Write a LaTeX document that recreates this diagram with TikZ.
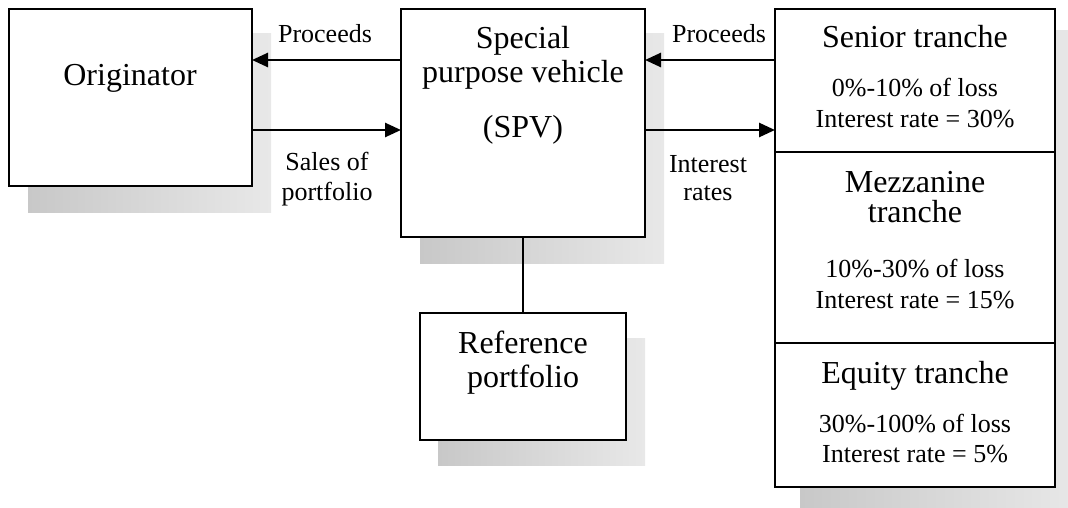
\documentclass[tikz,border=0pt]{standalone}
\usepackage{fontspec}
\setmainfont{Liberation Serif}
\usetikzlibrary{arrows.meta}
\definecolor{shdark}{RGB}{200,200,200}
\definecolor{shlight}{RGB}{232,232,232}
\begin{document}
\begin{tikzpicture}[x=1pt,y=-1pt,
  box/.style={draw, line width=2.6pt, fill=white, rectangle, inner sep=0pt, outer sep=0pt},
  shadowbox/.style={left color=shdark, right color=shlight, draw=none},
  big/.style={font=\fontsize{32}{36}\selectfont, anchor=base, inner sep=0pt},
  small/.style={font=\fontsize{26}{30}\selectfont, anchor=base, inner sep=0pt},
  arr/.style={line width=2.6pt, -{Triangle[length=16pt,width=14pt]}},
  link/.style={line width=2.6pt}]
\useasboundingbox (0,0) rectangle (1068,508);
\clip (0,0) rectangle (1068,508);
% shadows
\fill[shadowbox] (28,34) rectangle (271,212);
\fill[shadowbox] (420,34) rectangle (664,263);
\fill[shadowbox] (438,338) rectangle (645,465);
\fill[shadowbox] (800,31) rectangle (1080,520);
% boxes
\node[box, minimum width=243pt, minimum height=177pt] (orig) at (130.5,97.5) {};
\node[box, minimum width=244pt, minimum height=228pt] (spv) at (523,123) {};
\node[box, minimum width=206pt, minimum height=127pt] (ref) at (523,376.5) {};
\node[box, minimum width=280pt, minimum height=143pt] (senior) at (915,80.5) {};
\node[box, minimum width=280pt, minimum height=191pt] (mezz) at (915,247.5) {};
\node[box, minimum width=280pt, minimum height=144pt] (equity) at (915,415) {};
% coordinates for arrow levels
\coordinate (ytop) at (0,60);
\coordinate (ybot) at (0,130);
% connectors
\draw[arr] (spv.west |- ytop) -- (orig.east |- ytop);
\draw[arr] (orig.east |- ybot) -- (spv.west |- ybot);
\draw[arr] (senior.west |- ytop) -- (spv.east |- ytop);
\draw[arr] (spv.east |- ybot) -- (senior.west |- ybot);
\draw[link] (spv.south) -- (ref.north);
% texts
\node[big] (t1) at (130,86) {Originator};
\node[small] (t2) at (325,43) {Proceeds};
\node[small] (t3) at (327,170) {Sales of};
\node[small] (t4) at (327,200) {portfolio};
\node[big] (t5) at (523,49) {Special};
\node[big] (t6) at (523,83) {purpose vehicle};
\node[big] (t7) at (523,138) {(SPV)};
\node[small] (t8) at (719,43) {Proceeds};
\node[small] (t9) at (708,172) {Interest};
\node[small] (t10) at (708,200) {rates};
\node[big] (t11) at (915,48) {Senior tranche};
\node[small] (t12) at (915,97) {0\%-10\% of loss};
\node[small] (t13) at (915,128) {Interest rate = 30\%};
\node[big] (t14) at (915,192) {Mezzanine};
\node[big] (t15) at (915,222) {tranche};
\node[small] (t16) at (915,277) {10\%-30\% of loss};
\node[small] (t17) at (915,308) {Interest rate = 15\%};
\node[big] (t18) at (915,383) {Equity tranche};
\node[small] (t19) at (915,432) {30\%-100\% of loss};
\node[small] (t20) at (915,462) {Interest rate = 5\%};
\node[big] (t21) at (523,353) {Reference};
\node[big] (t22) at (523,387) {portfolio};
\end{tikzpicture}
\end{document}
